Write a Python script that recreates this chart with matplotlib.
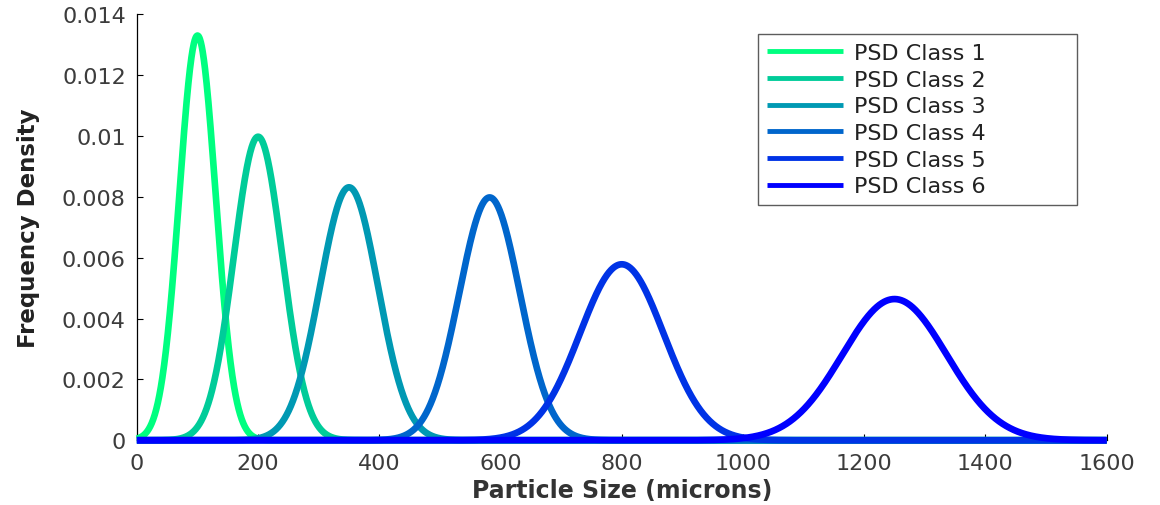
import numpy as np
import matplotlib
matplotlib.use("Agg")
import matplotlib.pyplot as plt

# PSD classes: mean particle size and spread (microns)
class_names = ["PSD Class 1", "PSD Class 2", "PSD Class 3",
               "PSD Class 4", "PSD Class 5", "PSD Class 6"]
class_means = [100, 200, 350, 582, 800, 1250]
class_sigmas = [30, 40, 48, 50, 69, 86]

x_ticks = [0, 200, 400, 600, 800, 1000, 1200, 1400, 1600]
y_ticks = [0, 0.002, 0.004, 0.006, 0.008, 0.01, 0.012, 0.014]
y_tick_labels = ["0", "0.002", "0.004", "0.006", "0.008", "0.01", "0.012", "0.014"]

plt.rcParams["font.family"] = ["DejaVu Sans"]

size = np.linspace(0, 1600, 3201)
colors = plt.cm.winter_r(np.linspace(0, 1, len(class_names)))

fig = plt.figure(figsize=(11.6, 5.06), dpi=100)
ax = fig.add_axes([0.118, 0.128, 0.836, 0.842])

for name, mu, sd, c in zip(class_names, class_means, class_sigmas, colors):
    dens = np.exp(-0.5 * ((size - mu) / sd) ** 2) / (sd * np.sqrt(2 * np.pi))
    ax.plot(size, dens, color=c, lw=4.8, label=name, solid_capstyle="butt",
            clip_on=False, zorder=3)

ax.set_xlim(0, 1600)
ax.set_ylim(0, 0.014)
ax.set_xticks(x_ticks)
ax.set_yticks(y_ticks)
ax.set_yticklabels(y_tick_labels)
ax.tick_params(direction="in", length=4, width=0.8, labelsize=16,
               labelcolor="#3c3c3c")
ax.tick_params(axis="x", pad=9)
ax.tick_params(axis="y", pad=8)
for s in ("top", "right"):
    ax.spines[s].set_visible(False)
ax.spines["left"].set_linewidth(0.9)
ax.spines["bottom"].set_linewidth(0.9)

ax.set_xlabel("Particle Size (microns)", fontsize=17, fontweight="bold",
              color="#333333", labelpad=4)
ax.set_ylabel("Frequency Density", fontsize=16.5, fontweight="bold",
              color="#222222", labelpad=16)

leg = ax.legend(loc="upper left", bbox_to_anchor=(0.641, 0.953, 0.328, 0.0),
                mode="expand", fontsize=16, handlelength=3.4, handletextpad=0.5,
                labelspacing=0.3, borderpad=0.4, frameon=True, fancybox=False,
                edgecolor="#333333", borderaxespad=0)
leg.get_frame().set_linewidth(1.0)
leg.set_zorder(5)
for t in leg.get_texts():
    t.set_color("#222222")
for h in leg.legend_handles:
    h.set_linewidth(3.5)

fig.savefig("out.png", dpi=100)
